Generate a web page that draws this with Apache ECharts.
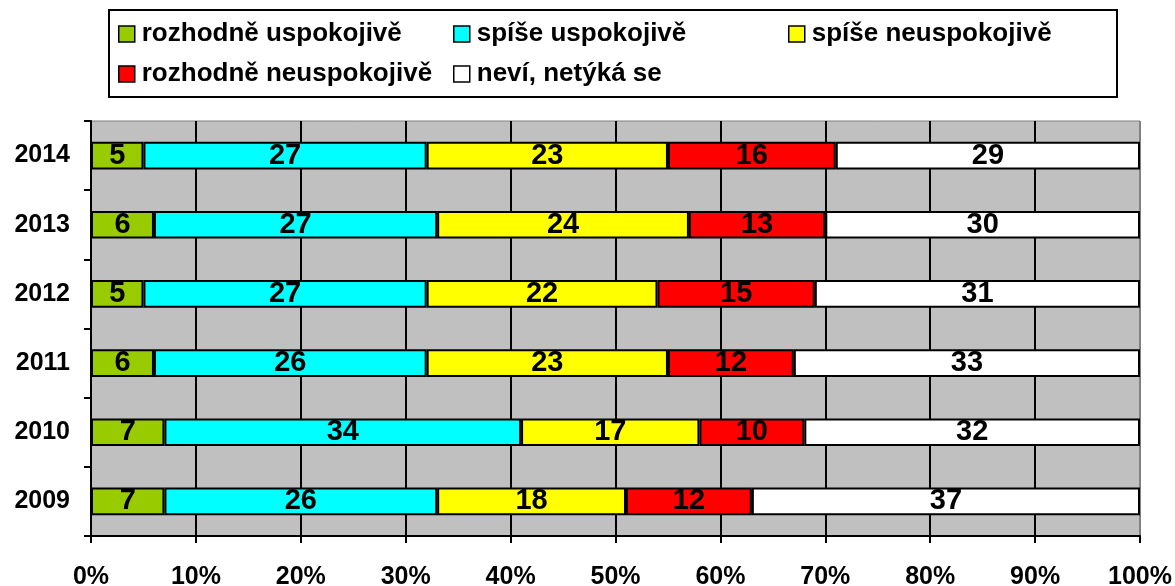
<!DOCTYPE html>
<html>
<head>
<meta charset="utf-8">
<script src="https://cdn.jsdelivr.net/npm/echarts@6/dist/echarts.min.js"></script>
<style>
  html, body { margin: 0; padding: 0; background: #fff; }
  #chart { width: 1175px; height: 586px; }
</style>
</head>
<body>
<div id="chart"></div>
<script>
// data (bottom to top)
var years = ['2009', '2010', '2011', '2012', '2013', '2014']
var rozhodneUspokojive = [7, 7, 6, 5, 6, 5]
var spiseUspokojive = [26, 34, 26, 27, 27, 27]
var spiseNeuspokojive = [18, 17, 23, 22, 24, 23]
var rozhodneNeuspokojive = [12, 10, 12, 15, 13, 16]
var neviNetykaSe = [37, 32, 33, 31, 30, 29]
var seriesNames = ['rozhodně uspokojivě', 'spíše uspokojivě', 'spíše neuspokojivě', 'rozhodně neuspokojivě', 'neví, netýká se']
var seriesData = [rozhodneUspokojive, spiseUspokojive, spiseNeuspokojive, rozhodneNeuspokojive, neviNetykaSe]
var colors = ['#99CC00', '#00FFFF', '#FFFF00', '#FF0000', '#FFFFFF']

var font = 'Arial, "Liberation Sans", sans-serif'

var legendBase = {
  orient: 'vertical',
  top: 21,
  padding: 0,
  itemWidth: 16,
  itemHeight: 16,
  itemGap: 14,
  icon: 'rect',
  itemStyle: { borderColor: '#000', borderWidth: 1.5 },
  textStyle: { fontFamily: font, fontWeight: 'bold', fontSize: 26, color: '#000', padding: [0, 0, 0, 2] },
  selectedMode: false
}

var splitColors = []
for (var i = 0; i < 10; i++) splitColors.push('#000')
splitColors.push('#808080')

var option = {
  animation: false,
  backgroundColor: '#fff',
  textStyle: { fontFamily: font },
  graphic: [{
    type: 'rect',
    shape: { x: 109, y: 10, width: 1008, height: 87 },
    style: { fill: '#fff', stroke: '#000', lineWidth: 2 },
    z: -1
  }],
  legend: [
    Object.assign({}, legendBase, { left: 118, data: [seriesNames[0], seriesNames[3]] }),
    Object.assign({}, legendBase, { left: 453, data: [seriesNames[1], seriesNames[4]] }),
    Object.assign({}, legendBase, { left: 788, data: [seriesNames[2]] })
  ],
  grid: {
    left: 91, right: 35, top: 121, bottom: 50,
    outerBoundsMode: 'none',
    containLabel: false,
    show: true,
    backgroundColor: '#C0C0C0',
    borderColor: '#808080',
    borderWidth: 1
  },
  xAxis: {
    type: 'value',
    min: 0, max: 100, interval: 10,
    axisLine: { show: true, lineStyle: { color: '#000', width: 2 } },
    axisTick: { show: true, length: 7, lineStyle: { color: '#000', width: 2 } },
    axisLabel: {
      formatter: '{value}%', margin: 29,
      fontFamily: font, fontWeight: 'bold', fontSize: 25, color: '#000'
    },
    splitLine: { show: true, lineStyle: { color: splitColors, width: 2 } }
  },
  yAxis: {
    type: 'category',
    data: years,
    axisLine: { show: true, lineStyle: { color: '#000', width: 2 } },
    axisTick: { show: true, length: 7, lineStyle: { color: '#000', width: 2 } },
    axisLabel: {
      margin: 21,
      fontFamily: font, fontWeight: 'bold', fontSize: 25, color: '#000'
    },
    splitLine: { show: false }
  },
  series: seriesNames.map(function (name, idx) {
    return {
      name: name,
      type: 'bar',
      stack: 'total',
      barWidth: '40%',
      data: seriesData[idx],
      itemStyle: { color: colors[idx], borderColor: '#000', borderWidth: 2 },
      label: {
        show: true,
        position: 'inside',
        fontFamily: font,
        fontWeight: 'bold',
        fontSize: 29,
        color: '#000'
      }
    }
  })
}

var chart = echarts.init(document.getElementById('chart'))
chart.setOption(option)
</script>
</body>
</html>
